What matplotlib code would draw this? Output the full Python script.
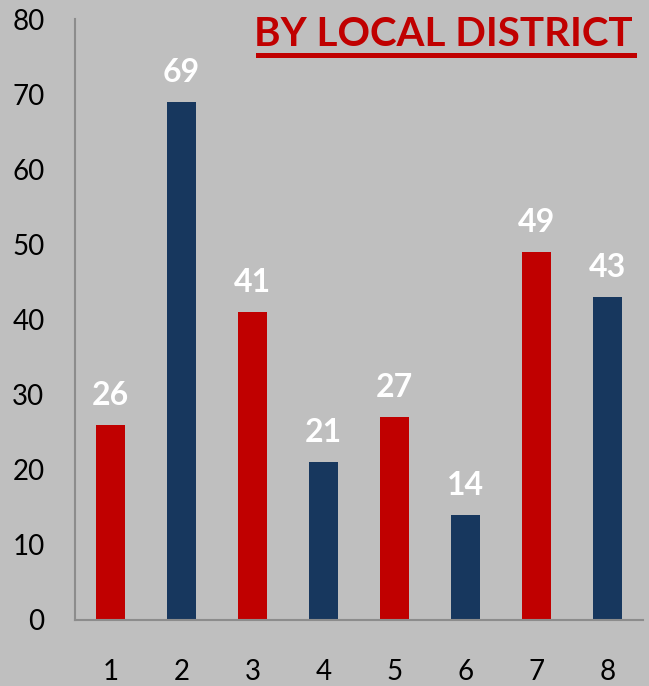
import matplotlib
matplotlib.use("Agg")
import matplotlib.pyplot as plt

categories = ["1", "2", "3", "4", "5", "6", "7", "8"]
values = [26, 69, 41, 21, 27, 14, 49, 43]
colors = ["#C00000", "#17375E", "#C00000", "#17375E", "#C00000", "#17375E", "#C00000", "#17375E"]
yticks = [0, 10, 20, 30, 40, 50, 60, 70, 80]
title = "BY LOCAL DISTRICT"

plt.rcParams['font.family'] = ['Lato', 'DejaVu Sans']
bg = "#BFBFBF"
fig = plt.figure(figsize=(6.49, 6.86), dpi=100, facecolor=bg)
ax = fig.add_axes([75/649, 66/686, 568/649, 601/686], facecolor=bg)
x = list(range(len(categories)))
bars = ax.bar(x, values, width=0.41, color=colors)
for xi, v in zip(x, values):
    ax.text(xi, v + 2.0, str(v), ha="center", va="bottom", color="white",
            fontsize=23, fontweight="bold")
ax.set_xlim(-0.5, len(categories) - 0.5)
ax.set_ylim(0, 80)
ax.set_yticks(yticks)
ax.set_xticks(x)
ax.set_xticklabels(categories)
ax.tick_params(axis="both", length=0, labelsize=20, colors="black")
ax.tick_params(axis="y", pad=22)
ax.tick_params(axis="x", pad=28)
for s in ["top", "right"]:
    ax.spines[s].set_visible(False)
for s in ["left", "bottom"]:
    ax.spines[s].set_color("#8C8C8C")
    ax.spines[s].set_linewidth(1.5)
t = fig.text(633/649, 1 - 35/686, title, ha="right", va="center", color="#C00000",
             fontsize=29, fontweight="bold")
fig.add_artist(plt.Line2D([258/649, 634/649], [1 - 55/686, 1 - 55/686], color="#C00000", lw=3.6))
fig.savefig("out.png", dpi=100, facecolor=bg)
